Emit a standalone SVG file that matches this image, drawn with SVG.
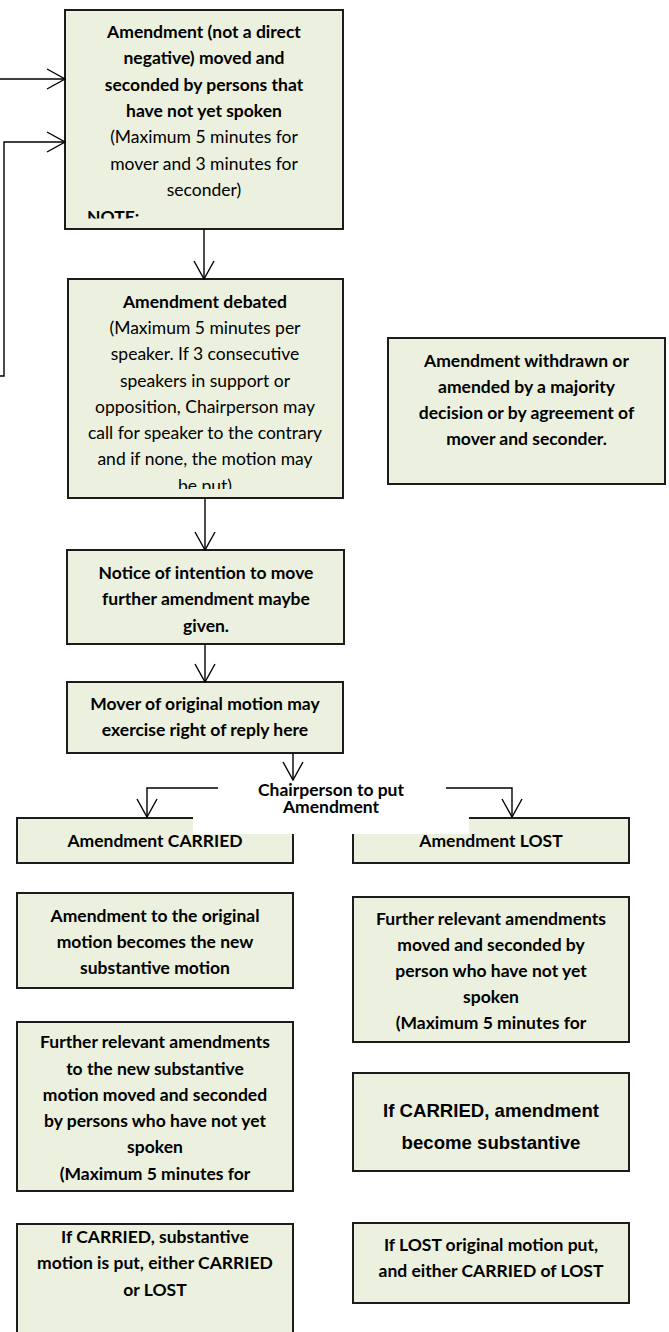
<svg xmlns="http://www.w3.org/2000/svg" width="669" height="1332" viewBox="0 0 669 1332">
<style>
.box{fill:#EBF1DE;stroke:#1c1c1c;stroke-width:2}
.t{font-family:Lato,"Liberation Sans",sans-serif;font-size:17.5px;text-anchor:middle;fill:#000}
.b{font-weight:700}
.r{font-weight:400}
.ar{font-family:"Liberation Sans",Arial,sans-serif;font-weight:700;font-size:18.6px;text-anchor:middle;fill:#000}
.ln{fill:none;stroke:#000;stroke-width:1.4}
</style>
<defs>
<marker id="ah" markerWidth="20" markerHeight="22" refX="19" refY="11" orient="auto" markerUnits="userSpaceOnUse" viewBox="0 0 20 22"><path d="M1,1 L19,11 L1,21" fill="none" stroke="#000" stroke-width="1.4"/></marker>
<clipPath id="c1"><rect x="65" y="10" width="278" height="208.5"/></clipPath>
<clipPath id="c2"><rect x="68" y="279" width="275" height="210"/></clipPath>
</defs>

<g id="n-amendment-moved">
<rect class="box" x="65" y="10" width="278" height="219"/>
<g clip-path="url(#c1)">
<text class="t b" x="204" y="38">Amendment (not a direct</text>
<text class="t b" x="204" y="64.3">negative) moved and</text>
<text class="t b" x="204" y="90.6">seconded by persons that</text>
<text class="t b" x="204" y="116.9">have not yet spoken</text>
<text class="t r" x="204" y="143.2">(Maximum 5 minutes for</text>
<text class="t r" x="204" y="169.5">mover and 3 minutes for</text>
<text class="t r" x="204" y="195.8">seconder)</text>
<text class="t b" x="87" y="223" style="text-anchor:start">NOTE:</text>
</g>
</g>

<g id="n-amendment-debated">
<rect class="box" x="68" y="279" width="275" height="219"/>
<g clip-path="url(#c2)">
<text class="t b" x="205" y="308">Amendment debated</text>
<text class="t r" x="205" y="334">(Maximum 5 minutes per</text>
<text class="t r" x="205" y="360">speaker. If 3 consecutive</text>
<text class="t r" x="205" y="387">speakers in support or</text>
<text class="t r" x="205" y="413">opposition, Chairperson may</text>
<text class="t r" x="205" y="439">call for speaker to the contrary</text>
<text class="t r" x="205" y="465">and if none, the motion may</text>
<text class="t r" x="205" y="492">be put)</text>
</g>
</g>

<g id="n-withdrawn">
<rect class="box" x="388" y="338" width="277" height="146"/>
<text class="t b" x="526.5" y="367">Amendment withdrawn or</text>
<text class="t b" x="526.5" y="393">amended by a majority</text>
<text class="t b" x="526.5" y="419">decision or by agreement of</text>
<text class="t b" x="526.5" y="445">mover and seconder.</text>
</g>

<g id="n-notice">
<rect class="box" x="67" y="550" width="277" height="94"/>
<text class="t b" x="206" y="579">Notice of intention to move</text>
<text class="t b" x="206" y="605">further amendment maybe</text>
<text class="t b" x="206" y="632">given.</text>
</g>

<g id="n-mover">
<rect class="box" x="67" y="682" width="276" height="71"/>
<text class="t b" x="205" y="710">Mover of original motion may</text>
<text class="t b" x="205" y="736">exercise right of reply here</text>
</g>

<g id="n-carried">
<rect class="box" x="17" y="818" width="276" height="45"/>
<text class="t b" x="155" y="847">Amendment CARRIED</text>
</g>

<g id="n-lost">
<rect class="box" x="353" y="818" width="276" height="45"/>
<text class="t b" x="491" y="847">Amendment LOST</text>
</g>

<g id="n-chairperson">
<rect x="193" y="775" width="276" height="59" fill="#fff"/>
<text class="t b" x="331" y="796">Chairperson to put</text>
<text class="t b" x="331" y="813">Amendment</text>
</g>

<g id="n-new-substantive">
<rect class="box" x="17" y="893" width="276" height="95"/>
<text class="t b" x="155" y="922">Amendment to the original</text>
<text class="t b" x="155" y="948">motion becomes the new</text>
<text class="t b" x="155" y="974">substantive motion</text>
</g>

<g id="n-further-left">
<rect class="box" x="17" y="1022" width="276" height="169"/>
<text class="t b" x="155" y="1048">Further relevant amendments</text>
<text class="t b" x="155" y="1075">to the new substantive</text>
<text class="t b" x="155" y="1101">motion moved and seconded</text>
<text class="t b" x="155" y="1127">by persons who have not yet</text>
<text class="t b" x="155" y="1153">spoken</text>
<text class="t b" x="155" y="1180">(Maximum 5 minutes for</text>
</g>

<g id="n-if-carried-left">
<rect class="box" x="17" y="1224" width="276" height="120"/>
<text class="t b" x="155" y="1243">If CARRIED, substantive</text>
<text class="t b" x="155" y="1269">motion is put, either CARRIED</text>
<text class="t b" x="155" y="1296">or LOST</text>
</g>

<g id="n-further-right">
<rect class="box" x="353" y="897" width="276" height="145"/>
<text class="t b" x="491" y="925">Further relevant amendments</text>
<text class="t b" x="491" y="951">moved and seconded by</text>
<text class="t b" x="491" y="977">person who have not yet</text>
<text class="t b" x="491" y="1003">spoken</text>
<text class="t b" x="491" y="1029">(Maximum 5 minutes for</text>
</g>

<g id="n-if-carried-right">
<rect class="box" x="353" y="1073" width="276" height="98"/>
<text class="ar" x="491" y="1117">If CARRIED, amendment</text>
<text class="ar" x="491" y="1149">become substantive</text>
</g>

<g id="n-if-lost">
<rect class="box" x="353" y="1223" width="276" height="80"/>
<text class="t b" x="491" y="1251">If LOST original motion put,</text>
<text class="t b" x="491" y="1277">and either CARRIED of LOST</text>
</g>

<g id="connectors">
<path class="ln" d="M0,79 H65" marker-end="url(#ah)"/>
<path class="ln" d="M0,376 H4 V142 H65" marker-end="url(#ah)"/>
<path class="ln" d="M204,229 V279" marker-end="url(#ah)"/>
<path class="ln" d="M205,498 V550" marker-end="url(#ah)"/>
<path class="ln" d="M205,644 V682" marker-end="url(#ah)"/>
<path class="ln" d="M293,753 V780" marker-end="url(#ah)"/>
<path class="ln" d="M218,788 H147 V817" marker-end="url(#ah)"/>
<path class="ln" d="M446,788 H512 V817" marker-end="url(#ah)"/>
</g>
</svg>
